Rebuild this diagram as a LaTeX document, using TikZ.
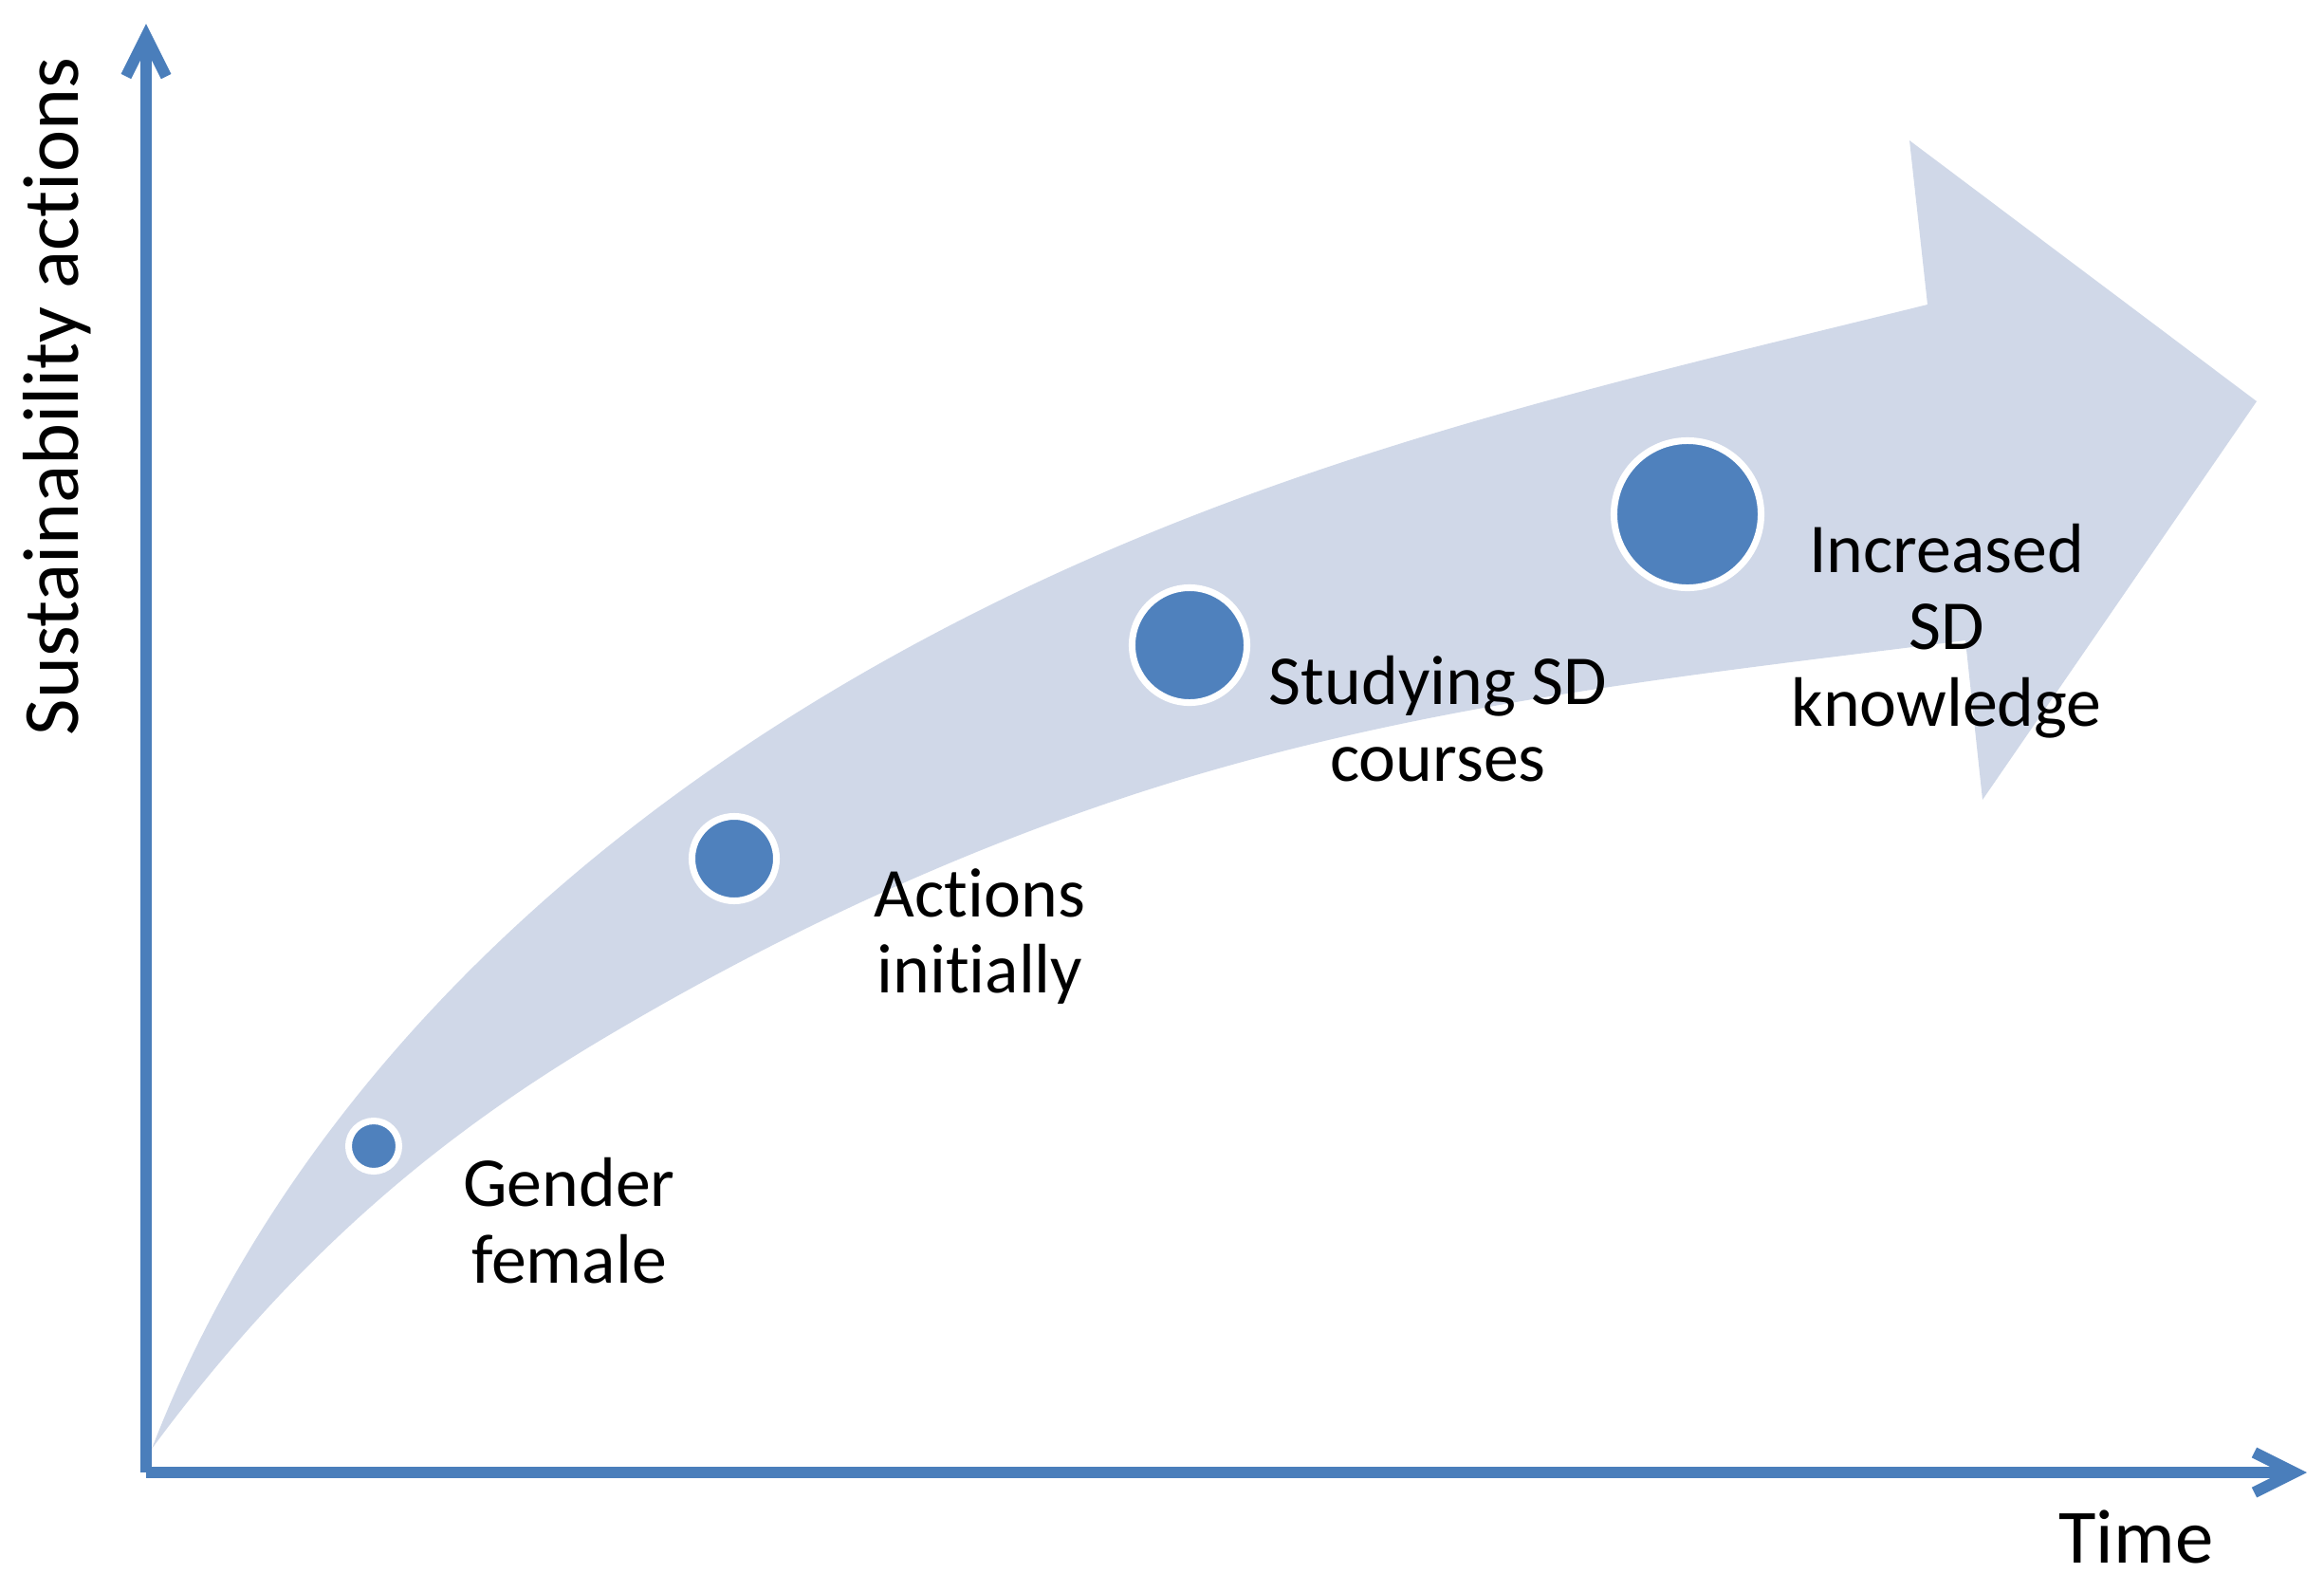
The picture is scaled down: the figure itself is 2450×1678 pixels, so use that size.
\documentclass[tikz,border=0pt]{standalone}
\usepackage{fontspec}
\setmainfont{Carlito}[Ligatures=NoCommon]
\usetikzlibrary{arrows.meta}
\definecolor{bandcol}{RGB}{208,216,232}
\definecolor{dotcol}{RGB}{79,129,189}
\definecolor{axiscol}{RGB}{74,126,187}
\tikzset{
  axisline/.style={draw=axiscol, line width=3.4pt, -{Straight Barb[length=12pt,width=12pt]}},
  dot/.style={circle, fill=dotcol, draw=white, line width=2pt, inner sep=0pt},
  lbl/.style={align=center, font=\fontsize{21}{23}\selectfont, inner sep=0pt},
  axlbl/.style={font=\fontsize{23}{27}\selectfont, inner sep=0pt}
}
\begin{document}
\begin{tikzpicture}[x=0.01cm,y=-0.01cm]
\useasboundingbox (0,0) rectangle (2450,1678);
% big curved arrow
\fill[bandcol] (160,1527)
  .. controls (284,1204) and (557,890) .. (1000,660)
  .. controls (1340,483) and (1680,408) .. (2032,321)
  -- (2013,148) -- (2379,423) -- (2090,843) -- (2072,675)
  .. controls (1780,712) and (1486,741) .. (1187,840)
  .. controls (1000,902) and (814,988) .. (627,1100)
  .. controls (471,1194) and (316,1316) .. (160,1527) -- cycle;
% axes
\coordinate (O) at (154,1552);
\coordinate (ytop) at (154,25);
\coordinate (xend) at (2432,1552);
\draw[axisline] (O) -- (ytop);
\draw[axisline] (O) -- (xend);
% dots
\node[dot, minimum size=0.53cm] (d1) at (394,1208) {};
\node[dot, minimum size=0.89cm] (d2) at (774,905) {};
\node[dot, minimum size=1.21cm] (d3) at (1254,680) {};
\node[dot, minimum size=1.55cm] (d4) at (1779,542) {};
% labels
\node[lbl] (l1) at (600,1287) {Gender\\female};
\node[lbl] (l2) at (1033,987) {Actions\\initially};
\node[lbl] (l3) at (1516,758) {Studying SD\\courses};
\node[lbl] (l4) at (2052,665) {Increased\\SD\\knowledge};
\node[axlbl, anchor=base] (tx) at (2252,1647) {Time};
\node[axlbl, anchor=base, rotate=90, font=\fontsize{23.8}{28}\selectfont] (ty) at (83,418) {Sustainability actions};
\end{tikzpicture}
\end{document}
